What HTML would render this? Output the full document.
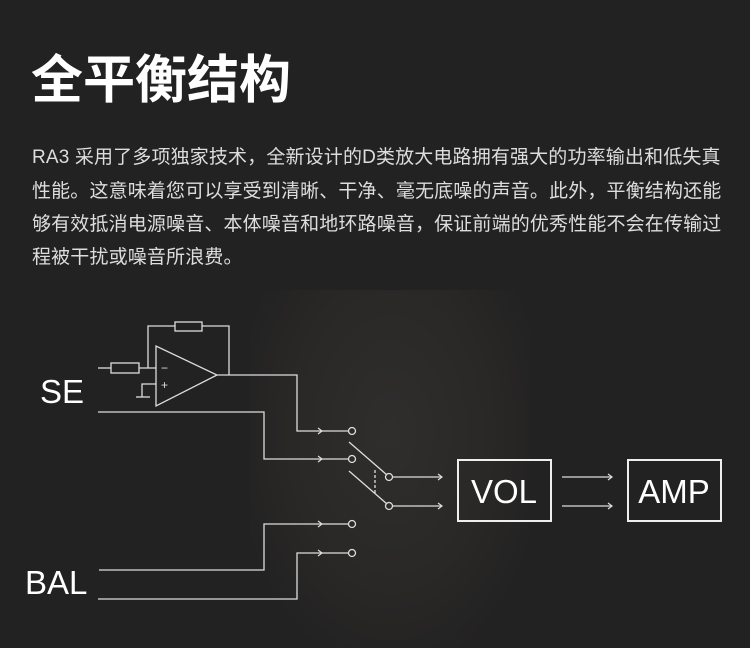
<!DOCTYPE html>
<html><head><meta charset="utf-8"><style>
html,body{margin:0;padding:0}
body{width:750px;height:648px;overflow:hidden;background:#232222;position:relative;font-family:"Liberation Sans","Noto Sans CJK SC",sans-serif;color:#fff}
.bg{position:absolute;left:250px;top:290px;width:280px;height:358px;background:radial-gradient(ellipse at 50% 40%,#2f2e2d 0%,#292827 50%,rgba(35,34,34,0) 80%)}
h1{position:absolute;left:31px;top:46px;margin:0;font-size:52px;font-weight:bold;line-height:60px;font-family:"Noto Sans CJK SC",sans-serif;letter-spacing:0px}
.p{position:absolute;left:32px;font-size:19px;letter-spacing:0.15px;color:#ddd;white-space:nowrap;line-height:22px;font-family:"Liberation Sans","Noto Sans CJK SC",sans-serif}
svg{position:absolute;left:0;top:0}
</style></head><body>
<div class="bg"></div>
<h1>全平衡结构</h1>
<div class="p" style="top:147px">RA3 采用了多项独家技术，全新设计的D类放大电路拥有强大的功率输出和低失真</div>
<div class="p" style="top:181px">性能。这意味着您可以享受到清晰、干净、毫无底噪的声音。此外，平衡结构还能</div>
<div class="p" style="top:214px">够有效抵消电源噪音、本体噪音和地环路噪音，保证前端的优秀性能不会在传输过</div>
<div class="p" style="top:247px">程被干扰或噪音所浪费。</div>
<svg width="750" height="648" viewBox="0 0 750 648">
<g stroke="#ddd" stroke-width="1.3" fill="none">
<polyline points="148,368 148,326 175,326"/>
<rect x="175" y="322" width="27" height="9"/>
<polyline points="202,326 229,326 229,375"/>
<polygon points="156,346 156,406 217,375"/>
<line x1="98" y1="368" x2="111" y2="368"/>
<rect x="111" y="363" width="28" height="10"/>
<line x1="139" y1="368" x2="156" y2="368"/>
<polyline points="156,384 142,384 142,397"/>
<line x1="136" y1="397" x2="150" y2="397"/>
<polyline points="217,375 297,375 297,431 348,431"/>
<polyline points="98,412 264,412 264,459 348,459"/>
<polyline points="99,570 264,570 264,524 348,524"/>
<polyline points="98,599 297,599 297,553 348,553"/>
<circle cx="352" cy="431" r="3.5"/><circle cx="352" cy="459" r="3.5"/>
<circle cx="352" cy="524" r="3.5"/><circle cx="352" cy="553" r="3.5"/>
<line x1="349" y1="442" x2="387" y2="475"/>
<line x1="349" y1="471" x2="387" y2="504"/>
<circle cx="389" cy="477" r="3.5"/><circle cx="389" cy="506" r="3.5"/>
<line x1="375" y1="470" x2="375" y2="495" stroke-dasharray="3,2"/>
<line x1="393" y1="477" x2="442" y2="477"/>
<line x1="393" y1="506" x2="442" y2="506"/>
<line x1="562" y1="477" x2="612" y2="477"/>
<line x1="562" y1="506" x2="612" y2="506"/>
<g stroke-width="1.2">
<polyline points="318,428 322,431 318,434"/><polyline points="318,456 322,459 318,462"/>
<polyline points="318,521 322,524 318,527"/><polyline points="318,550 322,553 318,556"/>
<polyline points="438,474 442,477 438,480"/><polyline points="438,503 442,506 438,509"/>
<polyline points="608,474 612,477 608,480"/><polyline points="608,503 612,506 608,509"/>
</g>
<rect x="458" y="460" width="93" height="61" stroke="#eee" stroke-width="2"/>
<rect x="628" y="460" width="93" height="61" stroke="#eee" stroke-width="2"/>
</g>
<g fill="#ddd" font-family="Liberation Sans,sans-serif">
<text x="161" y="372" font-size="12">−</text>
<text x="161" y="389" font-size="12">+</text>
</g>
<g fill="#fff" font-family="Liberation Sans,sans-serif" font-size="33">
<text x="40" y="403">SE</text>
<text x="25" y="594">BAL</text>
<text x="504" y="503" text-anchor="middle">VOL</text>
<text x="674" y="503" text-anchor="middle">AMP</text>
</g>
</svg>
</body></html>
